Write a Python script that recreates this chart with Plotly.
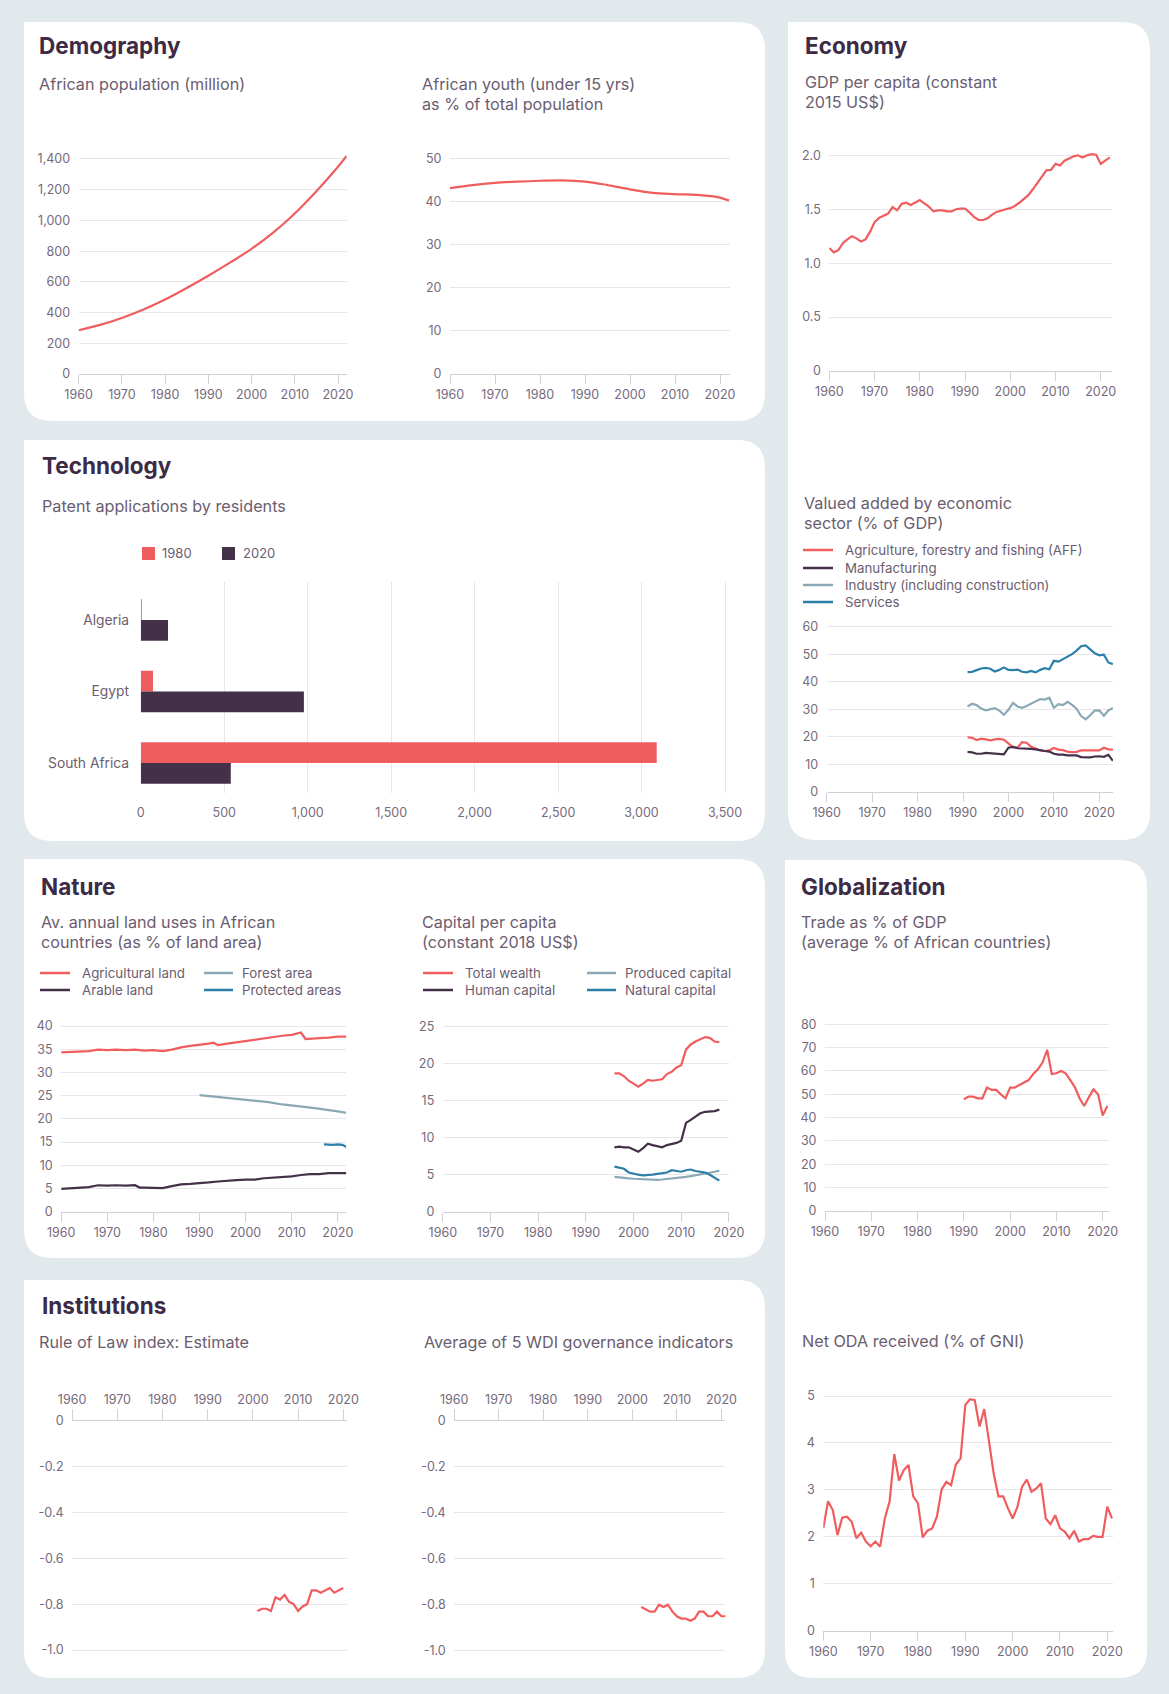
import plotly.graph_objects as go

# ---------------- data ----------------
pop_years = [1960, 1965, 1970, 1975, 1980, 1985, 1990, 1995, 2000, 2005, 2010, 2015, 2020, 2022]
pop_million = [285, 320, 365, 420, 485, 560, 640, 725, 815, 920, 1045, 1190, 1350, 1420]
youth_pct = [43.1, 43.8, 44.3, 44.6, 44.8, 44.9, 44.6, 43.8, 42.8, 42.0, 41.7, 41.5, 40.9, 40.2]

gdp_years = list(range(1960, 2023))
gdp_pc = [1.14, 1.10, 1.12, 1.185, 1.22, 1.25, 1.23, 1.20, 1.22, 1.29,
          1.38, 1.42, 1.44, 1.46, 1.52, 1.49, 1.55, 1.56, 1.54, 1.565,
          1.585, 1.555, 1.525, 1.48, 1.49, 1.49, 1.48, 1.48, 1.50, 1.505,
          1.505, 1.47, 1.43, 1.40, 1.40, 1.415, 1.45, 1.475, 1.49, 1.50,
          1.51, 1.53, 1.56, 1.595, 1.63, 1.685, 1.74, 1.80, 1.86, 1.865,
          1.92, 1.905, 1.95, 1.97, 1.99, 2.00, 1.98, 2.00, 2.01, 2.005,
          1.92, 1.95, 1.98]

va_years = list(range(1991, 2024))
va_aff = [19.8, 19.6, 18.8, 19.3, 19.0, 18.7, 19.0, 19.2, 18.9, 17.5,
          16.2, 16.0, 18.0, 17.8, 16.3, 15.7, 15.0, 14.8, 15.0, 15.9,
          15.3, 15.1, 14.6, 14.4, 14.5, 15.0, 15.0, 14.8, 14.8, 15.0,
          16.0, 15.4, 15.3]
va_manuf = [14.5, 14.3, 13.8, 13.8, 14.1, 14.0, 14.0, 13.9, 13.6, 16.0,
            16.3, 15.8, 15.8, 15.8, 15.6, 15.4, 15.0, 14.8, 14.6, 13.8,
            13.5, 13.5, 13.2, 13.3, 13.2, 12.6, 12.5, 12.5, 12.8, 12.9,
            12.7, 13.4, 11.2]
va_industry = [31.0, 32.0, 31.5, 30.2, 29.6, 30.0, 30.4, 29.5, 28.0, 29.8,
               32.3, 31.0, 30.5, 31.2, 32.0, 33.0, 33.7, 33.5, 34.2, 30.5,
               31.8, 31.5, 32.7, 31.6, 30.2, 27.5, 26.3, 27.8, 29.5, 29.6,
               27.6, 29.6, 30.4]
va_services = [43.5, 43.6, 44.2, 44.8, 45.0, 44.7, 43.7, 44.3, 45.2, 44.3,
               44.2, 44.4, 43.6, 43.4, 43.9, 43.4, 44.3, 44.9, 44.5, 47.6,
               47.3, 48.1, 49.1, 50.0, 51.3, 52.9, 53.2, 51.8, 50.3, 49.6,
               49.8, 47.0, 46.4]

patent_countries = ["Algeria", "Egypt", "South Africa"]
patents_1980 = [3, 73, 3091]
patents_2020 = [163, 977, 539]

ag_years = [1960, 1963, 1966, 1968, 1970, 1972, 1974, 1976, 1978, 1980, 1982,
            1984, 1986, 1988, 1990, 1992, 1993, 1994, 1996, 1998, 2000, 2002,
            2004, 2006, 2008, 2010, 2012, 2013, 2014, 2016, 2018, 2020, 2022]
ag_land = [34.3, 34.5, 34.6, 34.9, 34.8, 34.9, 34.8, 34.9, 34.7, 34.8, 34.6,
           34.9, 35.4, 35.7, 35.9, 36.2, 36.4, 35.9, 36.2, 36.5, 36.7, 37.0,
           37.3, 37.6, 37.9, 38.1, 38.6, 37.2, 37.3, 37.4, 37.5, 37.7, 37.7]
forest_years = [1990, 1995, 2000, 2005, 2008, 2010, 2015, 2020, 2022]
forest_area = [25.1, 24.6, 24.2, 23.6, 23.1, 22.9, 22.3, 21.6, 21.3]
protected_years = [2017, 2018, 2019, 2020, 2021, 2022]
protected_areas = [14.5, 14.4, 14.4, 14.5, 14.4, 13.9]
arable_years = [1960, 1962, 1964, 1966, 1968, 1970, 1972, 1974, 1976, 1977, 1978,
                1980, 1982, 1984, 1986, 1988, 1990, 1992, 1994, 1996, 1998, 2000,
                2002, 2004, 2006, 2008, 2010, 2012, 2014, 2016, 2018, 2020, 2022]
arable_land = [4.9, 5.0, 5.2, 5.3, 5.7, 5.6, 5.7, 5.6, 5.7, 5.2, 5.2,
               5.2, 5.1, 5.5, 5.9, 6.0, 6.1, 6.3, 6.5, 6.7, 6.8, 6.9,
               6.9, 7.2, 7.3, 7.4, 7.6, 7.9, 8.1, 8.1, 8.3, 8.3, 8.3]

cap_years = list(range(1996, 2019))
cap_total = [18.7, 18.7, 18.3, 17.7, 17.3, 16.9, 17.3, 17.8, 17.7, 17.8, 17.9, 18.6,
             18.9, 19.5, 19.8, 21.9, 22.6, 23.0, 23.3, 23.6, 23.5, 23.0, 22.9]
cap_human = [8.7, 8.8, 8.7, 8.7, 8.4, 8.1, 8.6, 9.2, 9.0, 8.9, 8.7, 9.0,
             9.1, 9.3, 9.6, 12.0, 12.4, 12.9, 13.3, 13.5, 13.5, 13.6, 13.8]
cap_produced = [4.7, 4.6, 4.55, 4.5, 4.45, 4.4, 4.35, 4.3, 4.25, 4.3, 4.35, 4.4,
                4.45, 4.5, 4.6, 4.7, 4.8, 4.9, 5.0, 5.1, 5.25, 5.4, 5.55]
cap_natural = [6.1, 6.0, 5.8, 5.3, 5.1, 5.0, 4.9, 4.9, 5.0, 5.1, 5.2, 5.3,
               5.6, 5.5, 5.4, 5.6, 5.7, 5.5, 5.4, 5.3, 5.0, 4.6, 4.2]

trade_years = list(range(1990, 2022))
trade_pct = [47.9, 49.0, 49.0, 48.3, 48.3, 52.9, 51.9, 51.9, 50.0, 48.3,
             52.9, 52.9, 54.0, 55.0, 56.1, 58.7, 60.7, 63.6, 69.0, 58.7,
             59.0, 60.0, 59.0, 56.1, 53.0, 48.3, 45.0, 48.7, 52.1, 50.0,
             40.9, 45.0]

oda_years = list(range(1960, 2022))
oda_pct = [2.18, 2.76, 2.57, 2.04, 2.41, 2.43, 2.32, 1.97, 2.09, 1.90,
           1.80, 1.90, 1.79, 2.39, 2.75, 3.76, 3.20, 3.42, 3.53, 2.86,
           2.71, 1.99, 2.13, 2.18, 2.43, 3.01, 3.17, 3.10, 3.54, 3.67,
           4.81, 4.93, 4.91, 4.35, 4.72, 3.99, 3.35, 2.86, 2.86, 2.61,
           2.39, 2.63, 3.07, 3.22, 2.96, 3.03, 3.14, 2.39, 2.27, 2.46,
           2.18, 2.11, 1.97, 2.13, 1.90, 1.95, 1.95, 2.02, 2.00, 2.00,
           2.64, 2.39]

rol_years = list(range(2001, 2021))
rule_of_law = [-0.83, -0.82, -0.82, -0.83, -0.77, -0.78, -0.76, -0.79, -0.80, -0.83,
               -0.81, -0.80, -0.74, -0.74, -0.75, -0.74, -0.73, -0.75, -0.74, -0.73]
wdi_years = list(range(2002, 2022))
wdi_avg = [-0.81, -0.82, -0.83, -0.83, -0.80, -0.81, -0.80, -0.83, -0.85, -0.86,
           -0.86, -0.87, -0.86, -0.83, -0.83, -0.85, -0.85, -0.83, -0.85, -0.85]

year_ticks = [1960, 1970, 1980, 1990, 2000, 2010, 2020]
pop_ticks = [0, 200, 400, 600, 800, 1000, 1200, 1400]
pop_ticktext = ["0", "200", "400", "600", "800", "1,000", "1,200", "1,400"]
youth_ticks = [0, 10, 20, 30, 40, 50]
gdp_ticks = [0, 0.5, 1.0, 1.5, 2.0]
gdp_ticktext = ["0", "0.5", "1.0", "1.5", "2.0"]
va_ticks = [0, 10, 20, 30, 40, 50, 60]
patent_ticks = [0, 500, 1000, 1500, 2000, 2500, 3000, 3500]
patent_ticktext = ["0", "500", "1,000", "1,500", "2,000", "2,500", "3,000", "3,500"]
land_ticks = [0, 5, 10, 15, 20, 25, 30, 35, 40]
cap_ticks = [0, 5, 10, 15, 20, 25]
trade_ticks = [0, 10, 20, 30, 40, 50, 60, 70, 80]
inst_ticks = [0, -0.2, -0.4, -0.6, -0.8, -1.0]
inst_ticktext = ["0", "-0.2", "-0.4", "-0.6", "-0.8", "-1.0"]
oda_ticks = [0, 1, 2, 3, 4, 5]

# ---------------- style ----------------
W, H = 1169, 1694
RED = "#EF5D5E"
PURPLE = "#45304A"
GREYBLUE = "#8AA9B4"
BLUE = "#2C7FA8"
TITLE_C = "#3D2A45"
SUB_C = "#6B5D70"
TICK_C = "#766A7B"
GRID_C = "#E8E5EB"
AXIS_C = "#D4D0D8"
BG = "#E2E9EC"
FONT = "Inter, 'Noto Sans', sans-serif"
TICK_SIZE = 12.5
SUB_SIZE = 16.2
LEG_SIZE = 13.3

fig = go.Figure()
layout = {}
annotations = []
shapes = []


def X(p):
    return p / W


def Y(p):
    return 1 - p / H


def lin(cal, v):
    pa, va, pb, vb = cal
    return pa + (v - va) * (pb - pa) / (vb - va)


def card(x0, y0, x1, y1, r=28):
    path = (f"M {X(x0)},{Y(y0)} L {X(x1 - r)},{Y(y0)} Q {X(x1)},{Y(y0)} {X(x1)},{Y(y0 + r)} "
            f"L {X(x1)},{Y(y1 - r)} Q {X(x1)},{Y(y1)} {X(x1 - r)},{Y(y1)} "
            f"L {X(x0 + r)},{Y(y1)} Q {X(x0)},{Y(y1)} {X(x0)},{Y(y1 - r)} Z")
    shapes.append(dict(type="path", path=path, xref="paper", yref="paper",
                       fillcolor="white", line=dict(width=0), layer="below"))


def text(x, y, s, size=SUB_SIZE, color=SUB_C, bold=False):
    annotations.append(dict(x=X(x), y=Y(y), xref="paper", yref="paper",
                            text=(f"<b>{s}</b>" if bold else s), showarrow=False,
                            xanchor="left", yanchor="middle",
                            font=dict(family=FONT, size=size, color=color)))


def legend_line(x0, x1, y, color, label, tx):
    shapes.append(dict(type="line", xref="paper", yref="paper", x0=X(x0), x1=X(x1),
                       y0=Y(y), y1=Y(y), line=dict(color=color, width=2.5)))
    text(tx, y, label, size=LEG_SIZE, color=SUB_C)


def panel(n, xcal, xr, ycal, yr, ytickvals, yticktext=None, top_axis=False,
          ticklen=9):
    xa = "xaxis" if n == 1 else f"xaxis{n}"
    ya = "yaxis" if n == 1 else f"yaxis{n}"
    xs = "x" if n == 1 else f"x{n}"
    ys = "y" if n == 1 else f"y{n}"
    px0, px1 = lin(xcal, xr[0]), lin(xcal, xr[1])
    pyb, pyt = lin(ycal, yr[0]), lin(ycal, yr[1])
    layout[xa] = dict(domain=[X(px0), X(px1)], range=xr, anchor=ys,
                      side="top" if top_axis else "bottom",
                      showline=True, linecolor=AXIS_C, linewidth=1,
                      ticks="outside", ticklen=ticklen, tickcolor=AXIS_C, tickwidth=1,
                      tickvals=year_ticks, showgrid=False, zeroline=False,
                      tickfont=dict(family=FONT, size=TICK_SIZE, color=TICK_C),
                      automargin=False, fixedrange=True)
    layout[ya] = dict(domain=[Y(pyb), Y(pyt)], range=yr, anchor=xs,
                      showgrid=True, gridcolor=GRID_C, gridwidth=1, zeroline=False,
                      showline=False, tickvals=ytickvals,
                      ticktext=yticktext if yticktext else [str(v) for v in ytickvals],
                      ticks="outside", ticklen=5, tickcolor="rgba(0,0,0,0)",
                      tickfont=dict(family=FONT, size=TICK_SIZE, color=TICK_C),
                      automargin=False, fixedrange=True)
    return xs, ys


def line(xs, ys, x, y, color, shape="linear"):
    fig.add_trace(go.Scatter(x=x, y=y, mode="lines", xaxis=xs, yaxis=ys,
                             line=dict(color=color, width=2.2, shape=shape),
                             hoverinfo="skip", showlegend=False))


# ---------------- cards ----------------
card(24, 22, 765, 421)      # Demography
card(788, 22, 1150, 840)    # Economy
card(24, 440, 765, 841)     # Technology
card(24, 859, 765, 1258)    # Nature
card(785, 860, 1147, 1678)  # Globalization
card(24, 1280, 765, 1678)   # Institutions

# ---------------- Demography ----------------
text(37, 45, "Demography", size=22.5, color=TITLE_C, bold=True)
text(37, 84, "African population (million)")
text(420, 84, "African youth (under 15 yrs)")
text(420, 104, "as % of total population")
xs, ys = panel(1, (78.6, 1960, 338, 2020), [1960, 2022],
               (374, 0, 159, 1400), [0, 1440], pop_ticks, pop_ticktext)
line(xs, ys, pop_years, pop_million, RED, "spline")
xs, ys = panel(2, (450, 1960, 720, 2020), [1960, 2022.2],
               (374, 0, 158.3, 50), [0, 50.6], youth_ticks)
line(xs, ys, pop_years, youth_pct, RED, "spline")

# ---------------- Economy ----------------
text(803, 46, "Economy", size=22.5, color=TITLE_C, bold=True)
text(803, 82, "GDP per capita (constant")
text(803, 102, "2015 US$)")
xs, ys = panel(3, (829.3, 1960, 1100.7, 2020), [1960, 2022.4],
               (371, 0, 155.3, 2.0), [0, 2.04], gdp_ticks, gdp_ticktext)
line(xs, ys, gdp_years, gdp_pc, RED)

text(802, 503, "Valued added by economic")
text(802, 523, "sector (% of GDP)")
legend_line(803, 833, 550, RED, "Agriculture, forestry and fishing (AFF)", 843)
legend_line(803, 833, 568, PURPLE, "Manufacturing", 843)
legend_line(803, 833, 585, GREYBLUE, "Industry (including construction)", 843)
legend_line(803, 833, 602, BLUE, "Services", 843)
xs, ys = panel(4, (826.7, 1960, 1099.3, 2020), [1960, 2023],
               (791.7, 0, 626.7, 60), [0, 60.8], va_ticks)
line(xs, ys, va_years, va_services, BLUE)
line(xs, ys, va_years, va_industry, GREYBLUE)
line(xs, ys, va_years, va_aff, RED)
line(xs, ys, va_years, va_manuf, PURPLE)

# ---------------- Technology ----------------
text(40, 466, "Technology", size=22.5, color=TITLE_C, bold=True)
text(40, 506, "Patent applications by residents")
shapes.append(dict(type="rect", xref="paper", yref="paper", x0=X(142), x1=X(155),
                   y0=Y(560), y1=Y(547), fillcolor=RED, line=dict(width=0)))
text(160, 553, "1980", size=13)
shapes.append(dict(type="rect", xref="paper", yref="paper", x0=X(222), x1=X(235),
                   y0=Y(560), y1=Y(547), fillcolor=PURPLE, line=dict(width=0)))
text(241, 553, "2020", size=13)

pcal = (140.8, 0, 725, 3500)
ycal = (620, 0, 763, 2)
layout["xaxis5"] = dict(domain=[X(lin(pcal, 0)), X(lin(pcal, 3520))], range=[0, 3520],
                        anchor="y5", showline=False, showgrid=True, gridcolor=GRID_C,
                        zeroline=False, tickvals=patent_ticks, ticktext=patent_ticktext,
                        ticks="outside", ticklen=8, tickcolor="rgba(0,0,0,0)",
                        tickfont=dict(family=FONT, size=TICK_SIZE, color=TICK_C),
                        automargin=False, fixedrange=True)
layout["yaxis5"] = dict(domain=[Y(lin(ycal, 2.42)), Y(lin(ycal, -0.53))], range=[2.42, -0.53],
                        anchor="x5", type="category", showgrid=False, showline=False,
                        zeroline=False, ticks="outside", ticklen=8,
                        tickcolor="rgba(0,0,0,0)",
                        tickfont=dict(family=FONT, size=13.8, color=SUB_C),
                        automargin=False, fixedrange=True)
fig.add_trace(go.Bar(y=patent_countries, x=patents_1980, orientation="h", name="1980",
                     marker=dict(color=RED, line=dict(width=0)), xaxis="x5", yaxis="y5",
                     hoverinfo="skip", showlegend=False))
fig.add_trace(go.Bar(y=patent_countries, x=patents_2020, orientation="h", name="2020",
                     marker=dict(color=PURPLE, line=dict(width=0)), xaxis="x5", yaxis="y5",
                     hoverinfo="skip", showlegend=False))

# ---------------- Nature ----------------
text(39, 886, "Nature", size=22.5, color=TITLE_C, bold=True)
text(39, 922, "Av. annual land uses in African")
text(39, 942, "countries (as % of land area)")
legend_line(40, 70, 973, RED, "Agricultural land", 80)
legend_line(40, 70, 990, PURPLE, "Arable land", 80)
legend_line(204, 233, 973, GREYBLUE, "Forest area", 240)
legend_line(204, 233, 990, BLUE, "Protected areas", 240)
xs, ys = panel(6, (61.2, 1960, 337.8, 2020), [1960, 2021.8],
               (1211.7, 0, 1026, 40), [0, 40.4], land_ticks)
line(xs, ys, ag_years, ag_land, RED)
line(xs, ys, forest_years, forest_area, GREYBLUE)
line(xs, ys, protected_years, protected_areas, BLUE)
line(xs, ys, arable_years, arable_land, PURPLE)

text(420, 922, "Capital per capita")
text(420, 942, "(constant 2018 US$)")
legend_line(423, 453, 973, RED, "Total wealth", 463)
legend_line(423, 453, 990, PURPLE, "Human capital", 463)
legend_line(587, 616, 973, GREYBLUE, "Produced capital", 623)
legend_line(587, 616, 990, BLUE, "Natural capital", 623)
xs, ys = panel(7, (442.8, 1960, 728.9, 2020), [1960, 2020],
               (1211.7, 0, 1026.7, 25), [0, 25.3], cap_ticks)
line(xs, ys, cap_years, cap_produced, GREYBLUE)
line(xs, ys, cap_years, cap_natural, BLUE)
line(xs, ys, cap_years, cap_human, PURPLE)
line(xs, ys, cap_years, cap_total, RED)

# ---------------- Globalization ----------------
text(799, 886, "Globalization", size=22.5, color=TITLE_C, bold=True)
text(799, 922, "Trade as % of GDP")
text(799, 942, "(average % of African countries)")
xs, ys = panel(8, (825, 1960, 1102.7, 2020), [1960, 2021.4],
               (1211, 0, 1024.3, 80), [0, 81], trade_ticks)
line(xs, ys, trade_years, trade_pct, RED)

text(800, 1341, "Net ODA received (% of GNI)")
xs, ys = panel(10, (823.3, 1960, 1107.3, 2020), [1960, 2021.2],
               (1630.7, 0, 1396, 5), [0, 5.08], oda_ticks)
line(xs, ys, oda_years, oda_pct, RED)

# ---------------- Institutions ----------------
text(40, 1305, "Institutions", size=22.5, color=TITLE_C, bold=True)
text(37, 1342, "Rule of Law index: Estimate")
text(422, 1342, "Average of 5 WDI governance indicators")
xs, ys = panel(9, (72.1, 1960, 343.3, 2020), [1960, 2020.8],
               (1420.7, 0, 1650, -1.0), [-1.01, 0], inst_ticks, inst_ticktext,
               top_axis=True, ticklen=11)
line(xs, ys, rol_years, rule_of_law, RED)
xs, ys = panel(11, (454.2, 1960, 721.4, 2020), [1960, 2020.9],
               (1421, 0, 1650.7, -1.0), [-1.01, 0], inst_ticks, inst_ticktext,
               top_axis=True, ticklen=11)
line(xs, ys, wdi_years, wdi_avg, RED)

fig.update_layout(
    width=W, height=H, autosize=False, margin=dict(l=0, r=0, t=0, b=0, pad=0),
    paper_bgcolor=BG, plot_bgcolor="rgba(0,0,0,0)",
    font=dict(family=FONT, color=SUB_C),
    showlegend=False, hovermode=False,
    barmode="group", bargap=0.42, bargroupgap=0,
    annotations=annotations, shapes=shapes,
    **layout,
)

post = ("document.documentElement.style.margin='0';document.documentElement.style.padding='0';"
        "document.documentElement.style.overflow='hidden';"
        "document.body.style.margin='0';document.body.style.padding='0';"
        "document.body.style.overflow='hidden';"
        "var gd=document.getElementById('{plot_id}');"
        "gd.style.width='1169px';gd.style.height='1694px';"
        "Plotly.relayout(gd,{autosize:false,width:1168,height:1694});"
        "Plotly.relayout(gd,{autosize:false,width:1169,height:1694});")

fig.write_html("out.html", config={"displayModeBar": False, "responsive": False},
               post_script=post)
